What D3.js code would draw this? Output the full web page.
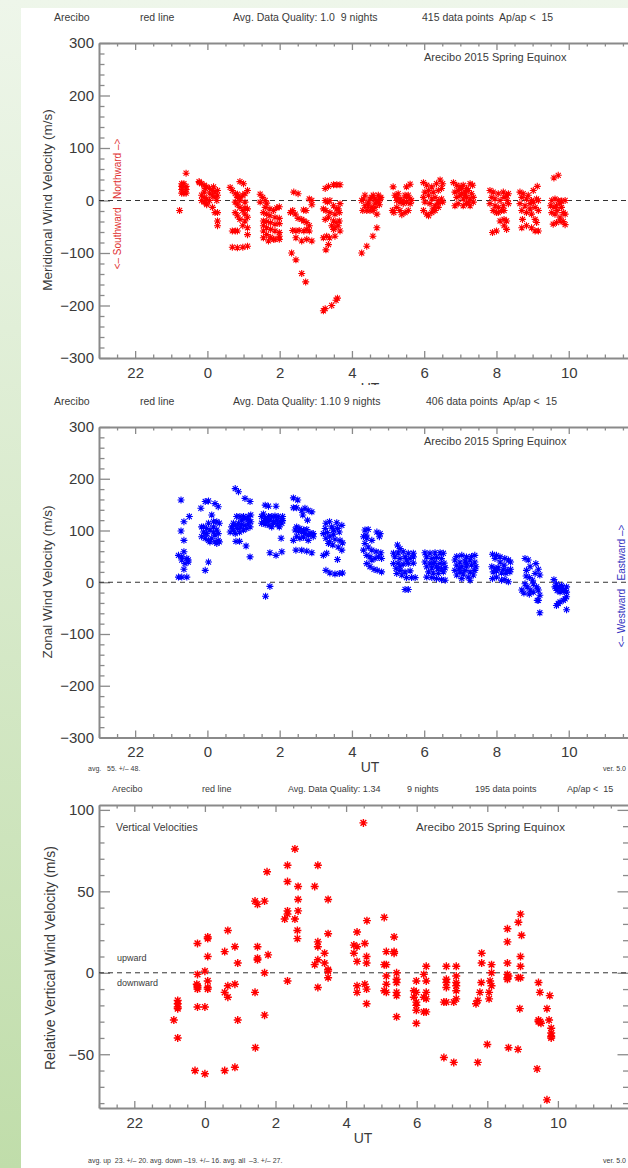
<!doctype html>
<html>
<head>
<meta charset="UTF-8">
<title>Arecibo 2015 Spring Equinox</title>
<script src="https://d3js.org/d3.v7.min.js"></script>
<style>
  body { margin: 0; }
  svg text { font-family: "Liberation Sans", Arial, sans-serif; white-space: pre; }
</style>
</head>
<body>
<script>
// UT hours after midnight are shifted by 24 so the night runs 21 -> 36
var utTicks = [22, 24, 26, 28, 30, 32, 34];

// meridional wind [UT, m/s]
var merid = [
  [23.29,32],[23.29,27],[23.29,21],[23.35,14],[23.41,52],[23.29,14],[23.23,-19],[23.35,32],[23.41,27],[23.41,21],[23.41,14],
  [23.77,36],[23.84,32],[23.91,29],[23.98,26],[0.06,23],[23.91,16],[23.84,10],[23.91,6],[23.98,3],[0.06,0],[0.14,19],[0.21,16],
  [0.28,19],[0.28,10],[0.14,10],[0.21,6],[0.26,0],[23.84,0],[23.91,-3],[23.98,-8],[0.14,-13],[0.21,-23],[0.28,-23],[0.28,-39],
  [0.28,-48],[23.98,-5],[0.07,14],[23.78,34],[23.94,23],[0.17,26],
  [0.63,25],[0.69,19],[0.77,13],[0.83,6],[0.9,36],[1.0,32],[0.77,-3],[0.83,-8],[0.9,-13],[0.98,-19],[1.04,-26],[1.11,-32],
  [1.11,19],[1.04,13],[0.98,10],[0.9,6],[0.83,12],[0.77,-23],[0.83,-29],[0.9,-36],[1.04,-39],[1.11,-52],[1.11,-65],[0.69,-58],
  [0.77,-58],[0.83,-58],[0.69,-89],[0.83,-90],[0.98,-89],[1.11,-87],[1.04,-3],[0.9,0],[1.11,-16],[0.98,-48],[1.04,-14],
  [1.46,12],[1.53,6],[1.6,0],[1.64,-5],[1.46,-3],[1.6,-13],[1.73,-16],[1.83,-19],[1.92,-14],[1.99,-12],[1.55,-23],[1.64,-26],
  [1.73,-29],[1.87,-32],[1.99,-34],[1.55,-39],[1.64,-40],[1.75,-42],[1.87,-45],[1.99,-44],[1.55,-48],[1.64,-52],[1.75,-55],
  [1.87,-58],[1.99,-61],[1.55,-58],[1.64,-65],[1.75,-70],[1.87,-74],[1.55,-71],[1.69,-77],[1.83,-74],[1.99,-68],[1.99,-74],
  [2.39,16],[2.51,13],[2.3,-23],[2.36,-19],[2.43,-26],[2.51,-34],[2.61,-36],[2.67,-39],[2.75,-42],[2.82,-48],[2.89,-8],[2.82,3],
  [2.73,-19],[2.66,-18],[2.36,-57],[2.45,-58],[2.54,-57],[2.67,-58],[2.75,-55],[2.89,-77],[2.75,-74],[2.61,-77],[2.45,-71],
  [2.33,-100],[2.45,-113],[2.61,-139],[2.72,-155],[2.89,0],[2.82,-58],
  [3.26,23],[3.35,27],[3.49,30],[3.58,30],[3.67,30],[3.26,0],[3.32,-3],[3.49,-10],[3.58,-16],[3.67,-6],[3.21,-16],[3.28,-19],
  [3.39,-23],[3.53,-26],[3.65,-23],[3.26,-36],[3.35,-32],[3.49,-39],[3.56,-42],[3.65,-39],[3.44,-48],[3.53,-52],[3.62,-48],
  [3.67,-58],[3.21,-71],[3.3,-68],[3.38,-71],[3.53,-68],[3.28,-94],[3.35,-84],[3.26,-206],[3.21,-210],[3.44,-200],[3.56,-190],
  [3.6,-186],[3.39,0],[3.62,-16],[3.49,-55],
  [4.27,0],[4.36,10],[4.36,-10],[4.41,-19],[4.3,-19],[4.45,-3],[4.5,3],[4.55,6],[4.59,10],[4.64,3],[4.69,0],[4.73,-3],[4.78,3],
  [4.8,6],[4.73,10],[4.64,-5],[4.55,-13],[4.5,-19],[4.59,-19],[4.69,-26],[4.69,-52],[4.58,-68],[4.41,-87],[4.27,-100],[4.45,-10],
  [4.64,-13],[4.32,3],[4.76,-8],
  [5.14,26],[5.51,26],[5.61,31],[5.19,10],[5.24,6],[5.33,3],[5.42,0],[5.51,6],[5.61,3],[5.65,0],[5.33,-3],[5.42,-6],[5.51,-3],
  [5.61,-6],[5.24,-13],[5.33,-19],[5.47,-23],[5.56,-19],[5.12,-19],[5.16,-23],[5.38,-27],[5.24,0],[5.28,13],[5.47,10],[5.56,10],
  [5.98,34],[6.07,29],[6.21,26],[6.34,32],[6.44,39],[6.51,32],[6.02,16],[6.12,19],[6.25,16],[6.39,19],[6.48,23],[5.98,6],[6.12,10],
  [6.21,3],[6.3,6],[6.39,0],[6.48,3],[6.02,-3],[6.16,-6],[6.3,-10],[6.39,-6],[6.51,-3],[5.98,-19],[6.07,-26],[6.21,-23],[6.3,-19],
  [6.39,-13],[6.12,-29],[6.25,-16],
  [6.81,34],[6.9,29],[6.99,26],[7.08,29],[7.17,23],[7.27,32],[7.34,29],[6.85,16],[6.94,19],[7.04,13],[7.13,16],[7.22,19],[7.31,13],
  [6.9,6],[6.99,10],[7.08,3],[7.17,6],[7.27,3],[7.36,6],[6.85,-10],[6.94,-6],[7.08,-10],[7.17,-6],[7.27,-10],[7.36,-3],[7.04,23],
  [7.13,10],[7.22,-3],
  [7.82,19],[7.91,16],[8.05,13],[8.19,16],[8.28,10],[8.33,13],[7.87,6],[7.96,3],[8.1,0],[8.21,6],[8.3,0],[7.82,-6],[7.96,-10],
  [8.05,-13],[8.19,-10],[8.33,-6],[7.91,-19],[8.0,-23],[8.14,-19],[8.21,-36],[8.28,-39],[8.21,-48],[8.28,-55],[8.1,-39],[8.0,-58],
  [7.89,-61],[8.05,-23],[8.21,-19],
  [8.65,16],[8.74,13],[8.88,10],[9.02,19],[9.13,27],[8.7,6],[8.83,3],[8.97,0],[9.11,3],[9.16,0],[8.65,-6],[8.79,-10],[8.93,-6],
  [9.07,-13],[9.16,-19],[8.7,-19],[8.83,-23],[8.97,-26],[9.07,-36],[9.11,-42],[8.72,-36],[8.83,-48],[8.97,-52],[9.07,-58],
  [9.16,-58],[8.7,-52],[8.93,-16],[9.02,-3],
  [9.59,43],[9.71,48],[9.53,0],[9.62,3],[9.71,0],[9.8,-1],[9.9,0],[9.5,-10],[9.59,-13],[9.66,-10],[9.76,-5],[9.53,-23],[9.62,-26],
  [9.68,-19],[9.76,-32],[9.85,-23],[9.9,-26],[9.57,-45],[9.66,-42],[9.76,-39],[9.85,-40],[9.9,-46],[9.8,-13]
];

// zonal wind [UT, m/s]
var zonal = [
  [23.27,159],[23.27,99],[23.35,81],[23.2,52],[23.35,59],[23.43,46],[23.47,39],[23.29,43],[23.38,36],[23.5,127],[23.35,117],
  [23.2,10],[23.29,10],[23.43,10],[23.35,25],[23.47,43],[23.29,49],
  [23.82,143],[23.94,156],[0.03,157],[0.21,152],[0.3,146],[23.89,97],[23.98,94],[0.07,101],[0.17,107],[0.26,117],[0.33,114],
  [23.84,88],[23.94,85],[0.03,81],[0.12,85],[0.21,91],[0.3,94],[23.89,107],[23.98,104],[0.12,130],[0.03,114],[0.17,117],[0.26,75],
  [0.07,78],[0.21,78],[0.3,81],[0.33,78],[23.94,23],[0.03,39],[23.84,107],[23.96,94],[0.17,97],[0.26,101],
  [0.77,181],[0.86,175],[1.04,162],[1.18,156],[0.67,107],[0.77,110],[0.86,114],[0.95,120],[1.04,123],[1.13,127],[1.2,130],
  [0.72,101],[0.83,104],[0.92,107],[1.04,110],[1.13,114],[1.2,117],[0.63,97],[0.77,94],[0.89,97],[1.0,101],[1.09,104],[1.18,107],
  [0.81,127],[0.9,127],[1.0,127],[0.79,79],[0.89,79],[1.07,70],[1.18,49],[0.72,114],[0.95,112],[1.13,121],
  [1.6,149],[1.69,147],[1.9,147],[1.5,127],[1.6,123],[1.69,127],[1.78,127],[1.87,128],[1.96,127],[2.06,123],[1.55,117],[1.64,119],
  [1.73,120],[1.83,117],[1.92,120],[2.01,117],[2.08,119],[1.5,114],[1.6,112],[1.71,110],[1.83,114],[1.94,112],[2.06,114],
  [1.73,57],[1.9,52],[2.06,59],[2.04,85],[1.61,-27],[1.73,-8],[1.64,117],[1.78,107],[1.99,107],[1.55,132],[2.08,127],
  [2.38,163],[2.5,159],[2.38,144],[2.47,144],[2.61,139],[2.7,143],[2.79,139],[2.89,136],[2.64,130],[2.77,120],[2.43,101],
  [2.52,99],[2.61,97],[2.7,94],[2.79,91],[2.89,93],[2.47,107],[2.56,104],[2.66,101],[2.75,102],[2.84,95],[2.93,94],[2.38,81],
  [2.47,89],[2.56,85],[2.66,87],[2.45,62],[2.61,62],[2.75,60],[2.89,57],[2.79,81],[2.93,88],
  [3.28,114],[3.38,117],[3.58,115],[3.26,104],[3.44,107],[3.6,104],[3.72,110],[3.21,94],[3.32,96],[3.49,93],[3.65,97],[3.28,85],
  [3.39,88],[3.53,83],[3.67,81],[3.74,76],[3.35,75],[3.47,72],[3.62,68],[3.72,62],[3.21,52],[3.3,56],[3.6,44],[3.28,23],[3.39,18],
  [3.53,16],[3.65,17],[3.74,18],[3.49,101],[3.38,78],
  [4.36,101],[4.45,102],[4.69,97],[4.78,94],[4.32,88],[4.41,85],[4.55,81],[4.76,88],[4.36,75],[4.45,68],[4.55,62],[4.67,59],
  [4.8,57],[4.32,62],[4.41,52],[4.5,49],[4.64,46],[4.73,49],[4.82,46],[4.41,36],[4.5,30],[4.61,25],[4.7,23],[4.82,20],[4.55,43],
  [4.39,91],
  [5.26,72],[5.33,65],[5.15,56],[5.28,57],[5.42,59],[5.56,56],[5.7,56],[5.19,49],[5.33,46],[5.47,49],[5.61,46],[5.7,49],[5.15,36],
  [5.28,37],[5.42,35],[5.56,36],[5.7,37],[5.22,27],[5.33,23],[5.47,20],[5.61,22],[5.24,17],[5.38,14],[5.51,9],[5.65,9],[5.75,9],
  [5.47,-14],[5.56,-14],[5.33,30],[5.51,43],
  [6.02,57],[6.16,56],[6.3,57],[6.44,57],[6.53,56],[6.07,49],[6.21,46],[6.34,48],[6.48,46],[6.02,39],[6.16,37],[6.3,39],[6.44,36],
  [6.55,37],[6.07,30],[6.21,28],[6.34,30],[6.48,26],[6.58,28],[6.12,20],[6.25,18],[6.39,17],[6.53,20],[6.07,10],[6.21,9],[6.34,7],
  [6.48,5],[6.58,4],[6.25,36],[6.39,26],
  [6.9,50],[7.04,52],[7.17,49],[7.31,50],[7.4,52],[6.85,43],[6.99,39],[7.13,41],[7.27,43],[7.4,39],[6.9,33],[7.04,30],[7.17,31],
  [7.31,33],[7.43,30],[6.85,23],[6.99,20],[7.13,23],[7.27,20],[7.4,23],[6.9,14],[7.08,16],[7.22,10],[7.36,14],[7.04,7],[7.27,4],
  [6.97,27],[7.17,37],
  [7.89,54],[8.0,52],[8.1,49],[8.23,46],[8.33,43],[8.39,39],[7.87,30],[7.96,27],[8.05,28],[8.19,25],[8.3,23],[8.39,25],[7.91,20],
  [8.0,22],[8.14,18],[8.26,17],[8.37,20],[7.89,7],[8.0,10],[8.14,4],[8.23,5],[8.33,1],[8.1,39],[7.96,46],[8.21,33],
  [8.79,46],[8.88,43],[8.83,23],[8.93,30],[8.82,12],[8.91,9],[8.79,-3],[8.85,-9],[8.93,-15],[8.76,-21],[8.7,-15],[9.02,-3],
  [9.11,-9],[9.16,-15],[9.2,-25],[9.13,-35],[9.2,-59],[9.09,36],[9.16,25],[9.07,17],[9.2,14],[9.0,4],[8.91,-23],[9.16,-35],
  [9.02,-19],
  [9.59,5],[9.66,-3],[9.74,-9],[9.8,-12],[9.9,-16],[9.94,-9],[9.62,-9],[9.68,-16],[9.76,-19],[9.85,-17],[9.94,-19],[9.65,-12],
  [9.8,-6],[9.94,-28],[9.85,-35],[9.76,-38],[9.66,-45],[9.94,-53],[9.71,-41],[9.9,-32]
];

// relative vertical wind [UT, m/s]
var vert = [
  [23.12,-29],[23.23,-17],[23.23,-19],[23.23,-21],[23.23,-22],[23.23,-40],
  [23.79,18],[23.79,-1],[23.77,-7],[23.79,-8],[23.79,-9],[23.79,-10],[23.79,-21],[23.72,-60],
  [0.0,1],[0.08,22],[0.08,21],[0.08,10],[0.08,-5],[0.08,-9],[0.08,-10],[0.0,-21],[0.0,-62],
  [0.56,13],[0.56,-12],[0.65,-15],[0.65,26],[0.65,-8],[0.56,-60],
  [0.85,16],[0.85,-7],[0.93,6],[0.93,-29],[0.85,-58],
  [1.42,44],[1.49,42],[1.49,16],[1.49,9],[1.49,8],[1.42,-12],[1.43,-46],
  [1.69,44],[1.76,62],[1.79,11],[1.69,0],[1.69,-26],
  [2.34,66],[2.34,56],[2.55,76],[2.64,53],[2.64,45],[2.64,38],[2.34,38],[2.34,36],[2.26,33],[2.55,33],[2.62,26],[2.62,21],[2.34,-5],
  [3.2,66],[3.11,53],[3.49,45],[3.49,24],[3.2,19],[3.2,16],[3.39,12],[3.2,8],[3.11,5],[3.39,6],[3.49,2],[3.49,1],[3.49,-3],[3.2,-9],
  [4.49,92],[4.59,32],[4.31,25],[4.22,17],[4.31,16],[4.53,18],[4.22,12],[4.58,10],[4.31,7],[4.58,6],[4.31,-8],[4.31,-12],
  [4.53,-7],[4.58,-10],[4.58,-19],
  [5.08,34],[5.36,22],[5.14,13],[5.36,13],[5.36,12],[5.08,5],[5.14,5],[5.14,-2],[5.14,-7],[5.08,-11],[5.14,-12],[5.43,0],
  [5.43,-4],[5.43,-6],[5.43,-12],[5.43,-14],[5.43,-27],
  [5.99,-5],[5.92,-11],[5.99,-12],[5.92,-15],[5.99,-18],[5.99,-20],[5.99,-23],[5.99,-31],
  [6.27,4],[6.2,-1],[6.27,-5],[6.27,-12],[6.2,-15],[6.27,-16],[6.2,-24],[6.27,-24],
  [6.84,4],[7.12,4],[6.84,-4],[6.84,-6],[6.84,-9],[7.12,-2],[7.12,-6],[7.12,-8],[7.12,-11],[6.77,-18],[6.84,-18],[7.05,-18],
  [7.12,-16],[6.77,-52],[7.05,-55],
  [7.84,12],[7.84,6],[8.12,5],[8.12,0],[7.83,-6],[8.08,-5],[8.12,-8],[7.68,-19],[7.73,-17],[7.79,-12],[7.73,-55],[8.05,-12],
  [8.05,-16],[8.0,-44],
  [8.57,-3],[8.57,-4],[8.57,-1],[8.57,6],[8.6,-2],[8.57,19],[8.57,27],[8.88,31],[8.94,36],[8.97,23],[8.94,10],[8.94,4],[8.94,-3],
  [8.88,-3],[8.6,-46],[8.87,-47],[8.92,-22],
  [9.45,-6],[9.49,-12],[9.41,-59],[9.45,-29],[9.5,-30],[9.52,-31],[9.45,-30],[9.69,-22],[9.69,-78],[9.77,-14],[9.75,-29],
  [9.81,-34],[9.81,-37],[9.81,-39],[9.81,-40]
];

var axisCol = "#8a8a8a", txtCol = "#3a3a3a";

var svg = d3.select("body").append("svg")
  .attr("width", 628)
  .attr("height", 1168);

var defs = svg.append("defs");
var grad = defs.append("linearGradient").attr("id", "bg")
  .attr("x1", 0).attr("y1", 0).attr("x2", 0).attr("y2", 1);
grad.append("stop").attr("offset", 0).attr("stop-color", "#eef6ea");
grad.append("stop").attr("offset", 1).attr("stop-color", "#c0ddaa");
defs.append("clipPath").attr("id", "clip1")
  .append("rect").attr("x", 0).attr("y", 0).attr("width", 628).attr("height", 385);

svg.append("rect").attr("width", 628).attr("height", 1168).attr("fill", "url(#bg)");
svg.append("rect").attr("x", 21).attr("y", 8).attr("width", 607).attr("height", 1160).attr("fill", "#fff");

function hr(u) { return u < 12 ? u + 24 : u; }

function star(r) {
  var d = r * 0.72;
  return "M" + (-r) + ",0H" + r + "M0," + (-r) + "V" + r +
         "M" + (-d) + "," + (-d) + "L" + d + "," + d +
         "M" + (-d) + "," + d + "L" + d + "," + (-d);
}

function styleAxis(sel, size) {
  sel.attr("font-family", null).attr("font-size", null);
  sel.select(".domain").attr("stroke", axisCol).attr("stroke-width", 2);
  sel.selectAll(".tick line").attr("stroke", axisCol).attr("stroke-width", 1.3);
  sel.selectAll(".tick text").attr("fill", txtCol).attr("font-size", size || 15);
}

function drawPanel(p) {
  var g = svg.append("g");
  if (p.clip) g.attr("clip-path", "url(#" + p.clip + ")");

  var x = d3.scaleLinear().domain([21, 36]).range([p.left, p.right]);
  var y = d3.scaleLinear().domain(p.yDom).range([p.bottom, p.top]);

  var xMinor = d3.range(21, 36, 0.5).filter(function (h) { return h % 2 !== 0; });
  var yMinor = d3.range(p.yMinorFrom, p.yDom[1] + 0.01, p.yMinorStep)
    .filter(function (v) { return p.yMajor.indexOf(v) < 0; });

  // minor ticks
  g.append("g").attr("transform", "translate(0," + p.bottom + ")")
    .call(d3.axisBottom(x).tickValues(xMinor).tickSizeInner(-p.xTick / 2).tickSizeOuter(0).tickFormat(""))
    .call(styleAxis).select(".domain").remove();
  g.append("g").attr("transform", "translate(0," + p.top + ")")
    .call(d3.axisTop(x).tickValues(xMinor).tickSizeInner(-p.xTick / 2).tickSizeOuter(0).tickFormat(""))
    .call(styleAxis).select(".domain").remove();
  g.append("g").attr("transform", "translate(" + p.left + ",0)")
    .call(d3.axisLeft(y).tickValues(yMinor).tickSizeInner(-p.yTick / 2).tickSizeOuter(0).tickFormat(""))
    .call(styleAxis).select(".domain").remove();
  g.append("g").attr("transform", "translate(" + p.right + ",0)")
    .call(d3.axisRight(y).tickValues(yMinor).tickSizeInner(-p.yTick / 2).tickSizeOuter(0).tickFormat(""))
    .call(styleAxis).select(".domain").remove();

  // major ticks + frame
  g.append("g").attr("transform", "translate(0," + p.bottom + ")")
    .call(d3.axisBottom(x).tickValues(utTicks).tickSizeInner(-p.xTick).tickSizeOuter(0).tickPadding(9)
      .tickFormat(function (h) { return h % 24; }))
    .call(styleAxis);
  g.append("g").attr("transform", "translate(0," + p.top + ")")
    .call(d3.axisTop(x).tickValues(utTicks).tickSizeInner(-p.xTick).tickSizeOuter(0).tickFormat(""))
    .call(styleAxis);
  g.append("g").attr("transform", "translate(" + p.left + ",0)")
    .call(d3.axisLeft(y).tickValues(p.yMajor).tickSizeInner(-p.yTick).tickSizeOuter(0).tickPadding(5))
    .call(styleAxis);
  g.append("g").attr("transform", "translate(" + p.right + ",0)")
    .call(d3.axisRight(y).tickValues(p.yMajor).tickSizeInner(-p.yTick).tickSizeOuter(0).tickFormat(""))
    .call(styleAxis);

  // zero line
  g.append("line")
    .attr("x1", p.left).attr("x2", p.right)
    .attr("y1", y(0)).attr("y2", y(0))
    .attr("stroke", "#333").attr("stroke-width", 1)
    .attr("stroke-dasharray", "5,4");

  // points
  g.append("g").selectAll("path")
    .data(p.data)
    .join("path")
    .attr("d", star(p.r))
    .attr("transform", function (d) { return "translate(" + x(hr(d[0])) + "," + y(d[1]) + ")"; })
    .attr("fill", "none")
    .attr("stroke", p.color)
    .attr("stroke-width", p.sw);

  // texts
  g.append("g").selectAll("text")
    .data(p.texts)
    .join("text")
    .attr("x", function (d) { return d.x; })
    .attr("y", function (d) { return d.y; })
    .attr("font-size", function (d) { return d.s; })
    .attr("fill", function (d) { return d.c || txtCol; })
    .attr("text-anchor", function (d) { return d.a || "start"; })
    .attr("transform", function (d) { return d.rot ? "rotate(-90," + d.x + "," + d.y + ")" : null; })
    .text(function (d) { return d.t; });
}

drawPanel({
  data: merid, color: "#ff0000", r: 3.5, sw: 1.1, clip: "clip1",
  left: 99, right: 641, top: 43, bottom: 358,
  yDom: [-300, 300], yMajor: [-300, -200, -100, 0, 100, 200, 300], yMinorFrom: -300, yMinorStep: 20,
  xTick: 7, yTick: 11,
  texts: [
    { t: "Arecibo", x: 54, y: 21, s: 10.5 },
    { t: "red line", x: 140, y: 21, s: 10.5 },
    { t: "Avg. Data Quality: 1.0  9 nights", x: 233, y: 21, s: 10.5 },
    { t: "415 data points  Ap/ap <  15", x: 422, y: 21, s: 10.5 },
    { t: "Arecibo 2015 Spring Equinox", x: 424, y: 61, s: 11 },
    { t: "Meridional Wind Velocity (m/s)", x: 52, y: 200, s: 13.5, a: "middle", rot: true },
    { t: "<– Southward   Northward –>", x: 121, y: 204, s: 10, a: "middle", rot: true, c: "#e03030" },
    { t: "UT", x: 370, y: 393, s: 14, a: "middle" }
  ]
});

drawPanel({
  data: zonal, color: "#0000ff", r: 3.5, sw: 1.1,
  left: 99, right: 641, top: 427, bottom: 737.5,
  yDom: [-300, 300], yMajor: [-300, -200, -100, 0, 100, 200, 300], yMinorFrom: -300, yMinorStep: 20,
  xTick: 7, yTick: 11,
  texts: [
    { t: "Arecibo", x: 54, y: 405, s: 10.5 },
    { t: "red line", x: 140, y: 405, s: 10.5 },
    { t: "Avg. Data Quality: 1.10 9 nights", x: 233, y: 405, s: 10.5 },
    { t: "406 data points  Ap/ap <  15", x: 426, y: 405, s: 10.5 },
    { t: "Arecibo 2015 Spring Equinox", x: 424, y: 445, s: 11 },
    { t: "Zonal Wind Velocity (m/s)", x: 52, y: 582, s: 13.5, a: "middle", rot: true },
    { t: "<– Westward   Eastward –>", x: 625, y: 586, s: 10, a: "middle", rot: true, c: "#3030c0" },
    { t: "UT", x: 370, y: 772, s: 14, a: "middle" },
    { t: "avg.   55. +/– 48.", x: 88, y: 771, s: 7 },
    { t: "ver. 5.0", x: 626, y: 771, s: 7, a: "end" }
  ]
});

drawPanel({
  data: vert, color: "#ff0000", r: 4, sw: 1.4,
  left: 99, right: 628.5, top: 805, bottom: 1108,
  yDom: [-83, 103], yMajor: [-50, 0, 50, 100], yMinorFrom: -80, yMinorStep: 10,
  xTick: 7, yTick: 11,
  texts: [
    { t: "Arecibo", x: 112, y: 792, s: 9 },
    { t: "red line", x: 202, y: 792, s: 9 },
    { t: "Avg. Data Quality: 1.34", x: 288, y: 792, s: 9 },
    { t: "9 nights", x: 407, y: 792, s: 9 },
    { t: "195 data points", x: 475, y: 792, s: 9 },
    { t: "Ap/ap <  15", x: 567, y: 792, s: 9 },
    { t: "Vertical Velocities", x: 116, y: 831, s: 10.5 },
    { t: "Arecibo 2015 Spring Equinox", x: 416, y: 831, s: 11.5 },
    { t: "upward", x: 117, y: 961, s: 9 },
    { t: "downward", x: 117, y: 986, s: 9 },
    { t: "Relative Vertical Wind Velocity (m/s)", x: 55, y: 958, s: 14, a: "middle", rot: true },
    { t: "UT", x: 363, y: 1143, s: 14, a: "middle" },
    { t: "avg. up  23. +/– 20. avg. down –19. +/– 16. avg. all  –3. +/– 27.", x: 88, y: 1163, s: 7 },
    { t: "ver. 5.0", x: 626, y: 1163, s: 7, a: "end" }
  ]
});
</script>
</body>
</html>
